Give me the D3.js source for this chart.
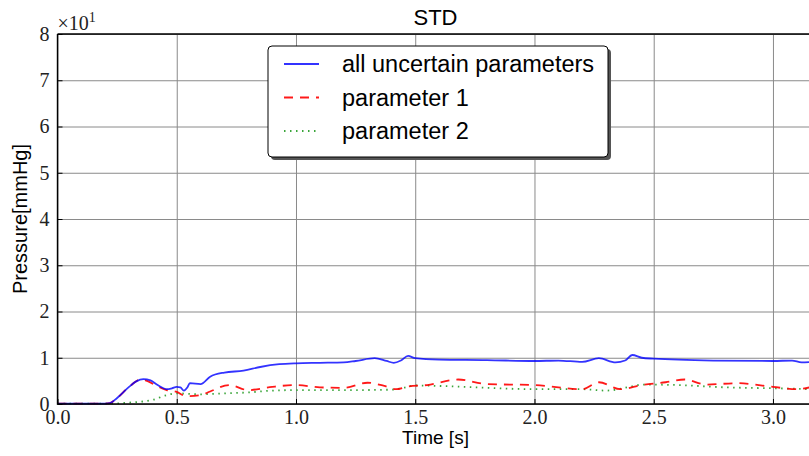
<!DOCTYPE html>
<html>
<head>
<meta charset="utf-8">
<script src="https://cdn.jsdelivr.net/npm/d3@7"></script>
<style>
  body { margin: 0; background: #fff; }
  svg { display: block; }
</style>
</head>
<body>
<div id="chart"></div>
<script>
// STD of pressure [mmHg] over time [s]
const tAll = [0, 0.1, 0.2, 0.22, 0.25, 0.3, 0.33, 0.36, 0.39, 0.42, 0.46, 0.48, 0.5, 0.515, 0.53, 0.545, 0.555, 0.6, 0.64, 0.7, 0.78, 0.85, 0.93, 1.0, 1.1, 1.2, 1.25, 1.33, 1.38, 1.41, 1.44, 1.47, 1.5, 1.6, 1.8, 2.0, 2.1, 2.2, 2.27, 2.34, 2.38, 2.41, 2.45, 2.5, 2.75, 3.0, 3.08, 3.12, 3.17];
const allParams = [0.1, 0.1, 0.1, 0.2, 1.3, 3.7, 4.9, 5.4, 5.1, 4.1, 3.2, 3.4, 3.7, 3.6, 2.9, 3.6, 4.5, 4.3, 5.9, 6.8, 7.2, 8.0, 8.6, 8.8, 8.9, 9.0, 9.3, 9.9, 9.3, 8.9, 9.4, 10.4, 9.9, 9.6, 9.5, 9.3, 9.4, 9.1, 9.9, 9.0, 9.4, 10.6, 10.0, 9.8, 9.4, 9.3, 9.4, 9.0, 9.1];

const tP1 = [0, 0.1, 0.2, 0.22, 0.25, 0.3, 0.35, 0.38, 0.42, 0.458, 0.5, 0.54, 0.6, 0.64, 0.72, 0.8, 0.9, 1.0, 1.1, 1.2, 1.3, 1.37, 1.42, 1.47, 1.55, 1.68, 1.8, 2.0, 2.2, 2.27, 2.36, 2.45, 2.55, 2.63, 2.72, 2.85, 3.0, 3.1, 3.17];
const param1 = [0.1, 0.1, 0.1, 0.2, 1.3, 3.7, 5.3, 4.9, 3.8, 3.0, 2.6, 1.7, 1.9, 2.7, 4.1, 3.0, 3.7, 4.1, 3.6, 3.5, 4.6, 3.9, 3.2, 3.8, 4.1, 5.3, 4.3, 4.1, 3.2, 4.7, 3.2, 4.1, 4.7, 5.3, 4.2, 4.5, 3.7, 3.2, 3.8];

const tP2 = [0, 0.1, 0.22, 0.3, 0.4, 0.45, 0.5, 0.55, 0.6, 0.7, 0.8, 0.9, 1.0, 1.2, 1.4, 1.45, 1.5, 1.6, 1.8, 2.0, 2.2, 2.3, 2.4, 2.45, 2.6, 2.8, 3.0, 3.17];
const param2 = [0.1, 0.1, 0.1, 0.3, 0.9, 1.8, 2.3, 2.2, 2.1, 2.3, 2.5, 2.9, 3.0, 3.0, 3.1, 3.5, 4.0, 3.9, 3.5, 3.2, 3.2, 2.9, 3.7, 4.2, 4.1, 3.6, 3.4, 3.2];

const xTicks = [0, 0.5, 1.0, 1.5, 2.0, 2.5, 3.0];
const yTicks = [0, 10, 20, 30, 40, 50, 60, 70, 80];
const legendLabels = ['all uncertain parameters', 'parameter 1', 'parameter 2'];

const series = [
  {label: legendLabels[0], t: tAll, v: allParams, color: 'rgba(0,0,255,0.8)', dash: null, width: 1.8},
  {label: legendLabels[1], t: tP1, v: param1, color: 'rgba(255,0,0,0.9)', dash: '9,7', width: 1.8},
  {label: legendLabels[2], t: tP2, v: param2, color: '#3aa53a', dash: '1.5,4.5', width: 1.8}
];

const W = 809, H = 456;
const margin = {top: 34, left: 57.5},
      width = 756,
      height = 370;
const serif = '"Liberation Serif", "DejaVu Serif", serif';
const sans = '"Liberation Sans", Arial, sans-serif';

const svg = d3.select('#chart').append('svg')
    .attr('width', W)
    .attr('height', H);

const g = svg.append('g')
    .attr('transform', 'translate(' + margin.left + ',' + margin.top + ')');

const x = d3.scaleLinear().domain([0, 3.17]).range([0, width]);
const y = d3.scaleLinear().domain([0, 80]).range([height, 0]);

// grid
g.append('g')
    .attr('transform', 'translate(0,' + height + ')')
    .call(d3.axisBottom(x).tickValues(xTicks).tickSize(-height).tickFormat(''))
    .call(a => a.select('.domain').remove())
    .selectAll('line').attr('stroke', '#8a8a8a').attr('stroke-width', 1);

g.append('g')
    .call(d3.axisLeft(y).tickValues(yTicks).tickSize(-width).tickFormat(''))
    .call(a => a.select('.domain').remove())
    .selectAll('line').attr('stroke', '#8a8a8a').attr('stroke-width', 1);

// lines
svg.append('clipPath').attr('id', 'clip')
  .append('rect').attr('width', width).attr('height', height + 2).attr('y', -1);

const line = d3.line()
    .x((d) => x(d[0]))
    .y((d) => y(d[1]))
    .curve(d3.curveMonotoneX);

const plot = g.append('g').attr('clip-path', 'url(#clip)');
series.slice().reverse().forEach((s) => {
  plot.append('path')
      .datum(s.t.map((t, i) => [t, s.v[i]]))
      .attr('fill', 'none')
      .attr('stroke', s.color)
      .attr('stroke-width', s.width)
      .attr('stroke-dasharray', s.dash)
      .attr('d', line);
});

// axes with inward ticks
const xAxis = g.append('g')
    .attr('transform', 'translate(0,' + height + ')')
    .call(d3.axisBottom(x).tickValues(xTicks).tickSize(-5).tickPadding(6).tickFormat(d3.format('.1f')));
xAxis.select('.domain').remove();

const yAxis = g.append('g')
    .call(d3.axisLeft(y).tickValues(yTicks).tickSize(-5).tickPadding(8).tickFormat((d) => d / 10));
yAxis.select('.domain').remove();

g.selectAll('.tick text')
    .style('font-family', serif)
    .style('font-size', '20px')
    .attr('fill', '#222');
xAxis.selectAll('.tick text').attr('y', 6);

// spines
g.append('path')
    .attr('d', 'M0,0V' + height + 'H' + width + 'M0,0H' + width)
    .attr('fill', 'none')
    .attr('stroke', '#000')
    .attr('stroke-width', 1.4);

// offset text
const off = svg.append('text')
    .attr('x', margin.left)
    .attr('y', margin.top - 4)
    .style('font-family', serif)
    .style('font-size', '20px')
    .attr('fill', '#222');
off.append('tspan').text('\u00d710');
off.append('tspan').style('font-size', '14px').attr('dy', -8).text('1');

// title and labels
svg.append('text')
    .attr('x', margin.left + width / 2)
    .attr('y', 25)
    .attr('text-anchor', 'middle')
    .style('font-family', sans)
    .style('font-size', '22px')
    .text('STD');

svg.append('text')
    .attr('x', margin.left + width / 2)
    .attr('y', 444)
    .attr('text-anchor', 'middle')
    .style('font-family', sans)
    .style('font-size', '19px')
    .text('Time [s]');

svg.append('text')
    .attr('transform', 'translate(27,' + (margin.top + height / 2) + ') rotate(-90)')
    .attr('text-anchor', 'middle')
    .style('font-family', sans)
    .style('font-size', '20px')
    .text('Pressure[mmHg]');

// legend
const lx = 268, ly = 46, lw = 340, lh = 111;
const legend = svg.append('g');
legend.append('rect')
    .attr('x', lx + 3).attr('y', ly + 3)
    .attr('width', lw).attr('height', lh)
    .attr('rx', 4)
    .attr('fill', '#555');
legend.append('rect')
    .attr('x', lx).attr('y', ly)
    .attr('width', lw).attr('height', lh)
    .attr('rx', 4)
    .attr('fill', '#fff')
    .attr('stroke', '#000')
    .attr('stroke-width', 1);

const rowY = d3.scalePoint().domain(legendLabels).range([64, 131]);
series.forEach((s) => {
  legend.append('line')
      .attr('x1', 284).attr('x2', 319)
      .attr('y1', rowY(s.label)).attr('y2', rowY(s.label))
      .attr('stroke', s.color)
      .attr('stroke-width', s.width)
      .attr('stroke-dasharray', s.dash);
  legend.append('text')
      .attr('x', 342)
      .attr('y', rowY(s.label))
      .attr('dy', '0.35em')
      .style('font-family', sans)
      .style('font-size', '23.5px')
      .text(s.label);
});
</script>
</body>
</html>
